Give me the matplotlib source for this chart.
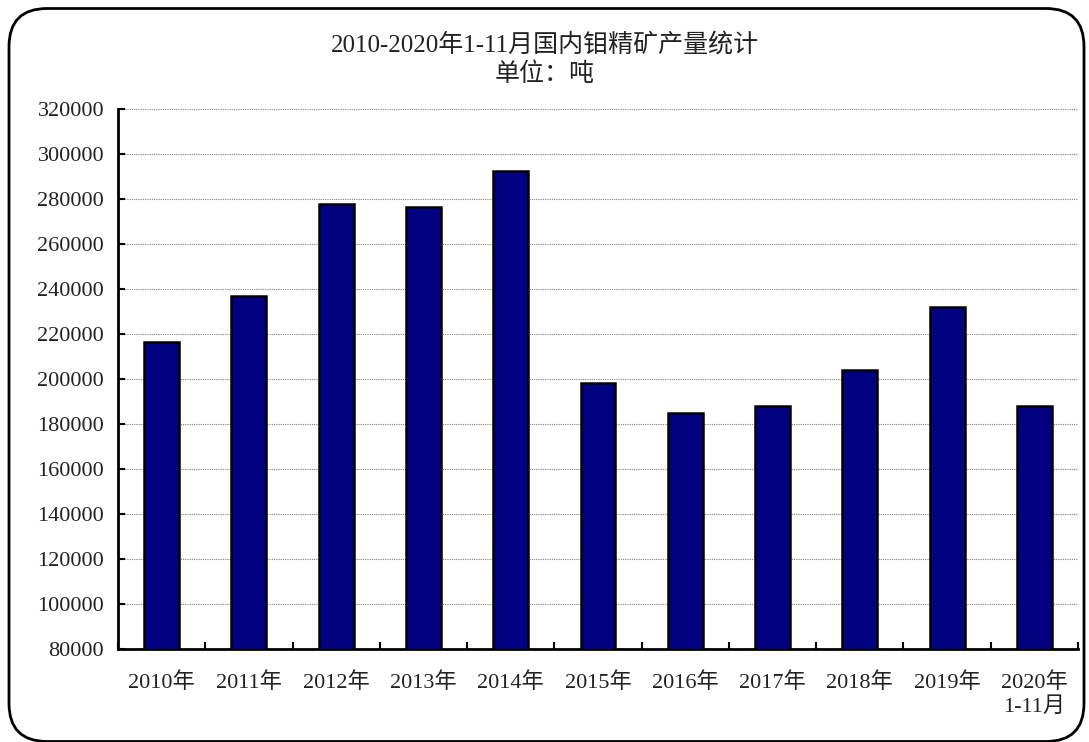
import matplotlib.pyplot as plt
from matplotlib.patches import FancyBboxPatch
import numpy as np

plt.rcParams['font.family'] = ['Liberation Serif', 'Noto Sans CJK SC', 'DejaVu Sans']

# Dane
years = ['2010年', '2011年', '2012年', '2013年', '2014年', '2015年',
         '2016年', '2017年', '2018年', '2019年', '2020年\n1-11月']
output = [216600, 236700, 277600, 276600, 292600, 198100,
          184700, 188100, 204000, 231900, 188100]
yticks = list(range(80000, 320001, 20000))

fig = plt.figure(figsize=(10.89, 7.42), dpi=100)
W, H = 1089, 742

# rámik so zaoblenými rohmi
frame = FancyBboxPatch((9 / W, 0.5 / H), 1075 / W, (H - 9) / H,
                       boxstyle='round,pad=0,rounding_size=0.035',
                       transform=fig.transFigure, fill=False,
                       edgecolor='black', linewidth=2, mutation_aspect=W / H)
fig.patches.append(frame)

ax = fig.add_axes([118 / W, (H - 649) / H, (1078 - 118) / W, (649 - 109) / H])
x = np.arange(len(years))
ax.bar(x, output, width=0.4, color='#000080', edgecolor='black', linewidth=1.8, zorder=3)

ax.set_ylim(80000, 320000)
ax.set_xlim(-0.5, len(years) - 0.5)
ax.set_yticks(yticks)
ax.set_yticklabels([str(v) for v in yticks], fontsize=16, color='#222222')
ax.yaxis.grid(True, linestyle=(0, (1, 1)), color='#808080', linewidth=0.8, zorder=0)

ax.set_xticks(x)
ax.set_xticklabels(years, fontsize=16, linespacing=1.25, color='#222222')
ax.set_xticks(np.arange(len(years) + 1) - 0.5, minor=True)
ax.tick_params(axis='x', which='major', length=0, pad=17)
ax.tick_params(axis='x', which='minor', direction='in', length=5, width=1.5)
ax.tick_params(axis='y', direction='in', length=5, width=1.5, pad=10)

for s in ['top', 'right']:
    ax.spines[s].set_visible(False)
for s in ['left', 'bottom']:
    ax.spines[s].set_linewidth(2)

fig.text(0.5, (H - 45) / H, '2010-2020年1-11月国内钼精矿产量统计', ha='center', va='center',
         fontsize=18, color='#222222')
fig.text(0.5, (H - 74) / H, '单位：吨', ha='center', va='center', fontsize=18, color='#222222')

fig.savefig('out.png', dpi=100)
